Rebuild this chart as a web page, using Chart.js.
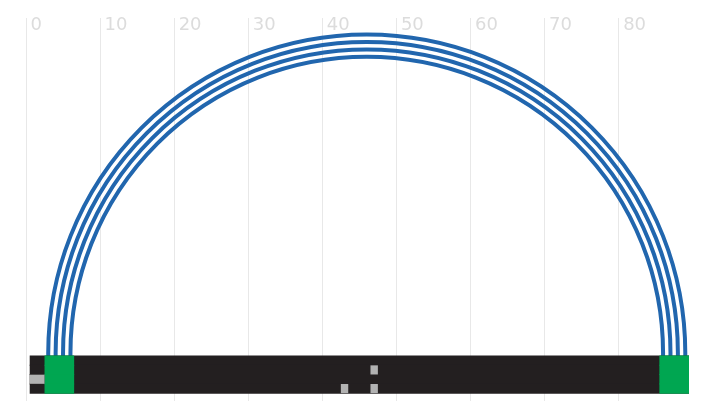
<!DOCTYPE html>
<html>
<head>
<meta charset="utf-8">
<script src="https://cdn.jsdelivr.net/npm/chart.js@4/dist/chart.umd.min.js"></script>
<style>
  html, body { margin: 0; padding: 0; background: #ffffff; }
  #wrap { width: 712px; height: 416px; }
</style>
</head>
<body>
<div id="wrap"><canvas id="c" width="712" height="416"></canvas></div>
<script>
// ---- data ----
const xTickValues = [0, 10, 20, 30, 40, 50, 60, 70, 80];
const stripRows = [1, 2, 3, 4];                 // rows of the strip, top to bottom
const stripExtent = [0.5, 89.5];                // black strip, all rows
const greenRuns = [[2.5, 6.5], [85.5, 89.5]];   // green blocks, all rows
const grayRows = [3, 2, 4, 4];                  // gray cells: row ...
const grayRuns = [[0.5, 2.5], [46.5, 47.5], [42.5, 43.5], [46.5, 47.5]]; // ... and span
const arcCenterX = 46;
const arcCenterY = 0.2;
const arcRadii = [43, 42, 41, 40];

// ---- build datasets ----
const blackData = stripRows.map(r => ({ y: r, x: stripExtent }));
const greenData = [];
stripRows.forEach(r => greenRuns.forEach(run => greenData.push({ y: r, x: run })));
const grayData = grayRows.map((r, i) => ({ y: r, x: grayRuns[i] }));
const arcData = arcRadii.map(r => ({ x: arcCenterX, y: arcCenterY, r: r }));

const barCommon = {
  type: 'bar',
  indexAxis: 'y',
  grouped: false,
  barPercentage: 1.1,
  categoryPercentage: 1,
  borderWidth: 0
};

new Chart(document.getElementById('c'), {
  type: 'bar',
  data: {
    datasets: [
      Object.assign({}, barCommon, { label: 'gray', data: grayData, backgroundColor: '#b2b2b2', barPercentage: 0.98, order: 2 }),
      Object.assign({}, barCommon, { label: 'green', data: greenData, backgroundColor: '#00a651', order: 3 }),
      Object.assign({}, barCommon, { label: 'strip', data: blackData, backgroundColor: '#231f20', order: 4 }),
      {
        type: 'scatter',
        label: 'arcs',
        data: arcData,
        order: 5,
        showLine: false,
        pointStyle: 'circle',
        pointBackgroundColor: 'rgba(0,0,0,0)',
        pointBorderColor: '#2166ae',
        pointBorderWidth: 4,
        pointRadius: (ctx) => {
          const xs = ctx.chart.scales.x;
          if (!xs || !ctx.raw) return 0;
          return Math.abs(xs.getPixelForValue(arcCenterX + ctx.raw.r) - xs.getPixelForValue(arcCenterX));
        },
        clip: { left: false, top: false, right: false, bottom: -45 }
      }
    ]
  },
  options: {
    responsive: false,
    animation: false,
    events: [],
    layout: { padding: { left: 26, right: 23, top: 18, bottom: 15 } },
    plugins: { legend: { display: false }, tooltip: { enabled: false } },
    scales: {
      x: {
        type: 'linear',
        position: 'top',
        offset: false,
        min: 0,
        max: 89.5,
        afterFit: (scale) => { scale.height = 0; },
        afterBuildTicks: (scale) => { scale.ticks = xTickValues.map(v => ({ value: v })); },
        border: { display: false },
        grid: { color: '#e8e8e8', lineWidth: 1, drawTicks: false, offset: false },
        ticks: {
          mirror: true,
          align: 'start',
          labelOffset: 4.5,
          padding: -3,
          color: '#dcdcdc',
          font: { family: 'DejaVu Sans', size: 18 },
          includeBounds: false
        }
      },
      y: {
        type: 'linear',
        display: false,
        reverse: true,
        offset: false,
        min: -35.7,
        max: 5.33,
        ticks: { includeBounds: false, stepSize: 1 }
      }
    }
  }
});
</script>
</body>
</html>
